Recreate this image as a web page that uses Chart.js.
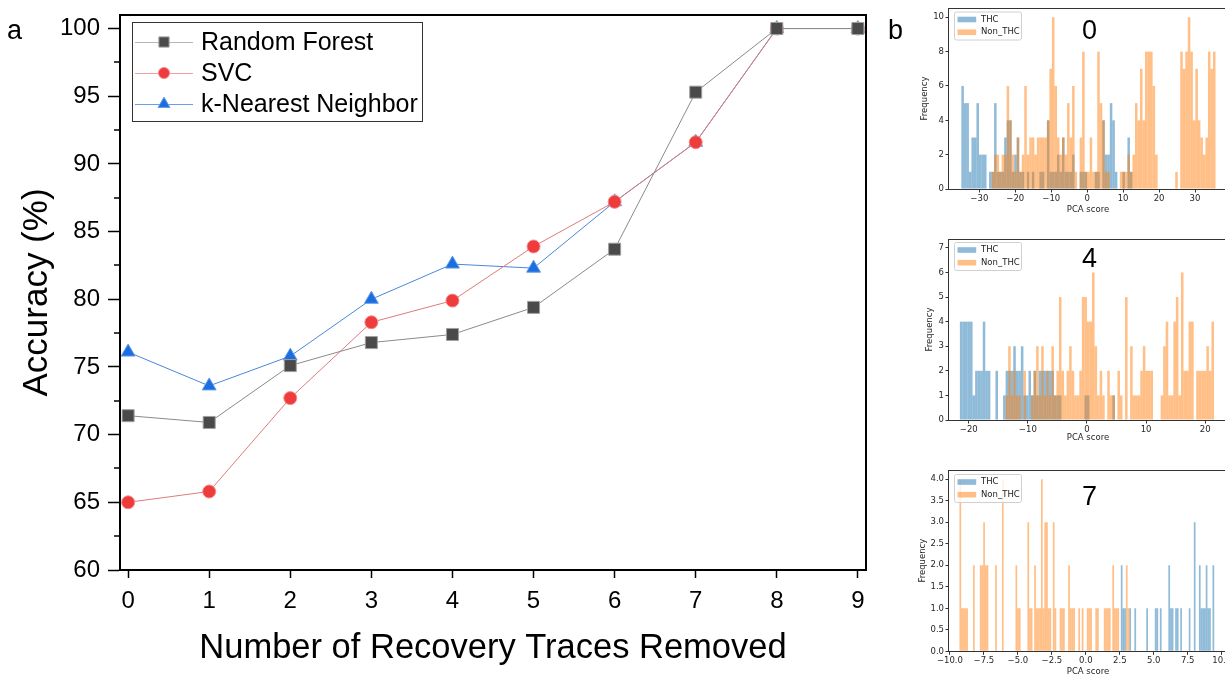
<!DOCTYPE html>
<html>
<head>
<meta charset="utf-8">
<script src="https://cdn.jsdelivr.net/npm/chart.js@4.4.1/dist/chart.umd.min.js"></script>
<style>
  html, body { margin: 0; padding: 0; background: #fff; overflow: hidden; }
  body { width: 1225px; height: 677px; position: relative; }
  canvas { position: absolute; }
  #main { left: 0; top: 0; }
  .hist { left: 900px; filter: blur(0.3px); }
  #h0 { top: 0; }
  #h4 { top: 225px; }
  #h7 { top: 440px; }
  .lbl { position: absolute; font-family: "Liberation Sans", Arial, sans-serif; color: #000; line-height: 1; white-space: nowrap; }
</style>
</head>
<body>
<canvas id="main" width="880" height="677"></canvas>
<canvas id="h0" class="hist" width="340" height="225"></canvas>
<canvas id="h4" class="hist" width="340" height="215"></canvas>
<canvas id="h7" class="hist" width="340" height="237"></canvas>
<div class="lbl" style="left:7px;top:17px;font-size:27px;">a</div>
<div class="lbl" style="left:888px;top:17px;font-size:27px;">b</div>
<div class="lbl" style="left:1082px;top:17px;font-size:27px;">0</div>
<div class="lbl" style="left:1082px;top:245px;font-size:27px;">4</div>
<div class="lbl" style="left:1082px;top:483px;font-size:27px;">7</div>
<script>
// ---------- panel a: accuracy vs. number of recovery traces removed ----------
const removedTraces = [0, 1, 2, 3, 4, 5, 6, 7, 8, 9];
const randomForest = [71.4, 70.9, 75.1, 76.8, 77.4, 79.4, 83.7, 95.3, 100, 100];
const svc          = [65.0, 65.8, 72.7, 78.3, 79.9, 83.9, 87.2, 91.6, 100, 100];
const kNearest     = [76.1, 73.6, 75.8, 80.0, 82.6, 82.3, 87.2, 91.6, 100, 100];
const accuracyTicks = [60, 65, 70, 75, 80, 85, 90, 95, 100];
const accuracyMinorTicks = [62.5, 67.5, 72.5, 77.5, 82.5, 87.5, 92.5, 97.5];

// ---------- panel b: PCA score histograms (counts per bin) ----------
// after removing 0 traces: bins start at -35.0, width 0.7
const pca0Start = -35.0, pca0Width = 0.7;
const thc0 = [6,5,5,1,3,3,5,2,2,2, 0,1,1,5,1,1,1,3,4,4, 1,2,3,1,1,0,1,0,1,0,
              0,1,1,0,4,1,1,1,2,1, 3,1,1,1,2,0,0,1,1,1, 0,0,0,1,1,0,4,2,2,5,
              4,1,0,0,1,0,3,1,0,0, 0,0,0,0,0,0,0,0,0,0, 0,0,0,0,0,0,0,0,0,0,
              0,0,0,0,0,0,0,0,0,0, 0];
const nonThc0 = [0,0,0,0,0,0,0,0,0,0, 0,0,1,2,2,1,2,2,6,4, 2,1,3,1,2,6,2,3,3,2,
                 3,3,3,3,4,7,10,6,3,2, 3,2,5,3,6,1,0,3,8,1, 1,3,1,1,8,5,4,1,1,0,
                 0,0,0,1,1,1,2,1,2,5, 4,7,4,8,8,8,6,2,0,0, 0,0,0,0,0,1,0,8,7,8,
                 10,8,4,7,4,3,2,3,8,7, 8];
const pca0XTicks = [-30, -20, -10, 0, 10, 20, 30];
const pca0YTicks = [0, 2, 4, 6, 8, 10];

// after removing 4 traces: bins start at -21.5, width 0.43
const pca4Start = -21.5, pca4Width = 0.43;
const thc4 = [4,4,4,4,4,1,2,2,2,4, 2,2,0,0,2,0,0,1,2,2, 2,3,2,2,3,1,1,2,1,2,
              1,2,2,2,2,2,2,1,1,1, 0,0,0,0,0,0,0,0,0,1, 1,0,0,0,0,0,0,0,0,0,
              1,0,0,0,0,0,0,0,0,0, 0,0,0,0,0,0,0,0,0,0, 0,0,0,0,0,0,0,0,0,0,
              0,0,0,0,0,0,0,0,0,0];
const nonThc4 = [0,0,0,0,0,0,0,0,0,0, 0,0,0,0,0,0,0,0,1,3, 1,2,1,1,0,2,0,0,1,2,
                 3,1,3,1,2,1,3,1,2,5, 2,1,2,3,2,1,1,2,5,5, 4,4,6,3,1,2,1,0,2,1,
                 1,0,2,1,0,5,0,3,1,1, 1,2,3,2,2,2,0,0,0,1, 3,4,1,1,4,5,1,6,2,2,
                 4,4,0,2,2,2,2,3,2,4];
const pca4XTicks = [-20, -10, 0, 10, 20];
const pca4YTicks = [0, 1, 2, 3, 4, 5, 6, 7];

// after removing 7 traces: bins start at -9.3, width 0.125 (THC begins at bin 95)
const pca7Start = -9.3, pca7Width = 0.125, thc7FirstBin = 95;
const thc7 = [2,1,1,0,0,1,0,0,1,0, 0,0,0,0,0,1,0,0,0,0, 1,1,0,1,0,0,0,0,2,1,
              1,0,1,1,0,1,0,0,0,0, 1,0,0,3,0,0,2,1,1,1, 2,1,1,0,2];
const nonThc7 = [4,1,1,1,1,0,0,0,2,0, 0,0,2,2,3,2,2,0,0,0, 0,2,0,0,0,4,0,0,0,0,
                 0,0,0,2,1,1,0,0,0,0, 3,1,1,0,2,1,1,1,4,1, 3,3,1,1,0,3,1,0,0,1,
                 1,1,0,0,2,1,1,1,0,0, 1,0,1,0,0,1,1,1,0,0, 1,1,0,0,0,1,1,1,1,0,
                 2,1,1,1,0,0,0,0,2,1];
const pca7XTicks = [-10, -7.5, -5, -2.5, 0, 2.5, 5, 7.5, 10];
const pca7YTicks = [0, 0.5, 1, 1.5, 2, 2.5, 3, 3.5, 4];

const SANS = '"Liberation Sans", Arial, sans-serif';
const DEJAVU = '"DejaVu Sans", sans-serif';

// fixed axis sizes; the plot box comes from the layout padding alone
const fixWidth = w => s => { s.width = w; s.paddingTop = 0; s.paddingBottom = 0; };
const fixHeight = h => s => { s.height = h; s.paddingLeft = 0; s.paddingRight = 0; };

// box around the plot, minor ticks on the accuracy axis and the framed legend
const mainDecor = {
  id: 'mainDecor',
  afterDraw(chart) {
    const { ctx, chartArea: a } = chart;
    const y = chart.scales.y;
    ctx.save();
    ctx.strokeStyle = '#000';
    ctx.lineWidth = 2;
    ctx.beginPath();
    ctx.moveTo(a.left - 1, a.top);
    ctx.lineTo(a.right, a.top);
    ctx.lineTo(a.right, a.bottom + 1);
    ctx.stroke();

    ctx.lineWidth = 1.5;
    accuracyMinorTicks.forEach(v => {
      const py = Math.round(y.getPixelForValue(v));
      ctx.beginPath();
      ctx.moveTo(a.left - 6, py);
      ctx.lineTo(a.left, py);
      ctx.stroke();
    });

    // legend
    const bx = 132.5, by = 22.5, bw = 290, bh = 99;
    ctx.lineWidth = 1;
    ctx.strokeStyle = '#333';
    ctx.fillStyle = '#fff';
    ctx.fillRect(bx, by, bw, bh);
    ctx.strokeRect(bx, by, bw, bh);
    ctx.font = '25px ' + SANS;
    ctx.textBaseline = 'middle';
    chart.data.datasets.forEach((ds, i) => {
      const cy = 42 + i * 31;
      ctx.strokeStyle = ds.legendLine;
      ctx.lineWidth = 1;
      ctx.beginPath();
      ctx.moveTo(135, cy + 0.5);
      ctx.lineTo(193, cy + 0.5);
      ctx.stroke();
      ctx.fillStyle = ds.pointBackgroundColor;
      ctx.strokeStyle = ds.pointBorderColor;
      ctx.lineWidth = ds.pointBorderWidth;
      Chart.helpers.drawPoint(ctx, {
        pointStyle: ds.pointStyle, rotation: 0,
        radius: ds.pointRadius * 0.85, borderWidth: ds.pointBorderWidth
      }, 164, cy);
      ctx.fillStyle = '#000';
      ctx.fillText(ds.label, 201, cy + 1);
    });
    ctx.restore();
  }
};

new Chart(document.getElementById('main'), {
  type: 'line',
  data: {
    datasets: [
      {
        label: 'Random Forest',
        data: removedTraces.map((x, i) => ({ x, y: randomForest[i] })),
        borderColor: '#8a8a8a', legendLine: '#b5b5b5', borderWidth: 1,
        pointStyle: 'rect', pointRadius: 8.5,
        pointBackgroundColor: '#4a4a4a', pointBorderColor: '#a0a0a0', pointBorderWidth: 1
      },
      {
        label: 'SVC',
        data: removedTraces.map((x, i) => ({ x, y: svc[i] })),
        borderColor: '#e07a7a', legendLine: '#f0a0a0', borderWidth: 1,
        pointStyle: 'circle', pointRadius: 6.5,
        pointBackgroundColor: '#ee3b3b', pointBorderColor: '#f58a8a', pointBorderWidth: 1
      },
      {
        label: 'k-Nearest Neighbor',
        data: removedTraces.map((x, i) => ({ x, y: kNearest[i] })),
        borderColor: '#4a86d8', legendLine: '#6aa0e8', borderWidth: 1,
        pointStyle: 'triangle', pointRadius: 8,
        pointBackgroundColor: '#1a6ee0', pointBorderColor: '#5f9ae8', pointBorderWidth: 1
      }
    ]
  },
  options: {
    responsive: false,
    animation: false,
    devicePixelRatio: 1,
    layout: { padding: { left: 0, top: 15, right: 14, bottom: 0 } },
    plugins: { legend: { display: false }, tooltip: { enabled: false } },
    scales: {
      x: {
        type: 'linear', min: -0.1, max: 9.1,
        afterFit: fixHeight(107),
        afterBuildTicks: s => { s.ticks = removedTraces.map(v => ({ value: v })); },
        grid: { drawOnChartArea: false, drawTicks: true, tickLength: 8, tickWidth: 1.5, tickColor: '#000' },
        border: { display: true, color: '#000', width: 2 },
        ticks: { color: '#000', font: { family: SANS, size: 24, lineHeight: 1 }, padding: 11, maxRotation: 0,
                 callback: v => String(v) },
        title: { display: true, text: 'Number of Recovery Traces Removed', color: '#000',
                 font: { family: SANS, size: 34.5 }, padding: { top: 0, bottom: 8.3 } }
      },
      y: {
        type: 'linear', min: 60, max: 101,
        afterFit: fixWidth(120),
        afterBuildTicks: s => { s.ticks = accuracyTicks.map(v => ({ value: v })); },
        grid: { drawOnChartArea: false, drawTicks: true, tickLength: 12, tickWidth: 1.5, tickColor: '#000' },
        border: { display: true, color: '#000', width: 2 },
        ticks: { color: '#000', font: { family: SANS, size: 24, lineHeight: 1 }, padding: 8, callback: v => String(v) },
        title: { display: true, text: 'Accuracy (%)', color: '#000',
                 font: { family: SANS, size: 35 }, padding: { top: 16.5, bottom: 0 } }
      }
    }
  },
  plugins: [mainDecor]
});

// ---------- histogram panels ----------
const THC_FILL = 'rgba(31,119,180,0.5)';
const NON_FILL = 'rgba(255,127,14,0.5)';
const fmtMinus = s => s.replace('-', '\u2212');

function binPoints(start, width, counts, firstBin) {
  return counts.map((c, i) => ({ x: start + width * (firstBin + i + 0.5), y: c }));
}

const histDecor = {
  id: 'histDecor',
  afterDraw(chart, args, opts) {
    const { ctx, chartArea: a } = chart;
    ctx.save();
    ctx.strokeStyle = '#333';
    ctx.lineWidth = 1;
    ctx.strokeRect(Math.round(a.left) - 0.5, Math.round(a.top) + 0.5,
                   Math.round(a.right - a.left) + 1, Math.round(a.bottom - a.top));
    // legend
    const lx = 54.5, ly = opts.legendTop + 0.5, lw = 67, lh = 28;
    ctx.fillStyle = 'rgba(255,255,255,0.8)';
    ctx.strokeStyle = '#d0d0d0';
    ctx.beginPath();
    ctx.roundRect(lx, ly, lw, lh, 2);
    ctx.fill();
    ctx.stroke();
    const rows = [['THC', THC_FILL], ['Non_THC', NON_FILL]];
    ctx.font = '8.5px ' + DEJAVU;
    ctx.textBaseline = 'middle';
    rows.forEach(([txt, col], i) => {
      const cy = ly + 7.5 + i * 12.7;
      ctx.fillStyle = col;
      ctx.fillRect(57.5, cy - 2.8, 18.7, 5.6);
      ctx.fillStyle = '#222';
      ctx.fillText(txt, 81, cy);
    });
    ctx.restore();
  }
};

function histChart(id, cfg) {
  const tickFont = { family: DEJAVU, size: 8.5 };
  return new Chart(document.getElementById(id), {
    type: 'bar',
    data: {
      datasets: [
        { label: 'THC', data: binPoints(cfg.start, cfg.width, cfg.thc, cfg.thcFirst || 0),
          backgroundColor: THC_FILL, order: 1 },
        { label: 'Non_THC', data: binPoints(cfg.start, cfg.width, cfg.non, 0),
          backgroundColor: NON_FILL, order: 0 }
      ]
    },
    options: {
      responsive: false,
      animation: false,
      devicePixelRatio: 1,
      layout: { padding: { left: 0, top: cfg.top, right: 13, bottom: 0 } },
      datasets: { bar: { grouped: false, barPercentage: 1, categoryPercentage: 1,
                         inflateAmount: 0, borderWidth: 0 } },
      plugins: { legend: { display: false }, tooltip: { enabled: false },
                 histDecor: { legendTop: cfg.legendTop } },
      scales: {
        x: {
          type: 'linear', offset: false, min: cfg.xMin, max: cfg.xMax,
          afterFit: fixHeight(cfg.xHeight),
          afterBuildTicks: s => { s.ticks = cfg.xTicks.map(v => ({ value: v })); },
          grid: { offset: false, drawOnChartArea: false, drawTicks: true, tickLength: 3.5,
                  tickWidth: 1, tickColor: '#333' },
          border: { display: false },
          ticks: { color: '#262626', font: tickFont, padding: 1, maxRotation: 0, autoSkip: false,
                   callback: v => fmtMinus(cfg.xDec ? v.toFixed(cfg.xDec) : String(v)) },
          title: { display: true, text: 'PCA score', color: '#262626', font: tickFont,
                   padding: { top: 0, bottom: cfg.xTitlePad } }
        },
        y: {
          min: 0, max: cfg.yMax,
          afterFit: fixWidth(49),
          afterBuildTicks: s => { s.ticks = cfg.yTicks.map(v => ({ value: v })); },
          grid: { drawOnChartArea: false, drawTicks: true, tickLength: 3.5, tickWidth: 1, tickColor: '#333' },
          border: { display: false },
          ticks: { color: '#262626', font: tickFont, padding: 1.5, autoSkip: false,
                   callback: v => cfg.yDec ? v.toFixed(cfg.yDec) : String(v) },
          title: { display: true, text: 'Frequency', color: '#262626', font: tickFont,
                   padding: { top: cfg.yTitlePad, bottom: 0 } }
        }
      }
    },
    plugins: [histDecor]
  });
}

histChart('h0', {
  start: pca0Start, width: pca0Width, thc: thc0, non: nonThc0,
  xMin: -38.44, xMax: 38.9, yMax: 10.54, xTicks: pca0XTicks, yTicks: pca0YTicks,
  top: 8, xHeight: 36, xTitlePad: 9.9, yTitlePad: 19.9, legendTop: 11.5
});
histChart('h4', {
  start: pca4Start, width: pca4Width, thc: thc4, non: nonThc4,
  xMin: -23.34, xMax: 23.7, yMax: 7.36, xTicks: pca4XTicks, yTicks: pca4YTicks,
  top: 14, xHeight: 20, xTitlePad: -3.1, yTitlePad: 24.9, legendTop: 17
});
histChart('h7', {
  start: pca7Start, width: pca7Width, thc: thc7, thcFirst: thc7FirstBin, non: nonThc7,
  xMin: -10.07, xMax: 10.39, yMax: 4.216, xTicks: pca7XTicks, yTicks: pca7YTicks, xDec: 1, yDec: 1,
  top: 30, xHeight: 25.7, xTitlePad: 0, yTitlePad: 17.6, legendTop: 34
});
</script>
</body>
</html>
